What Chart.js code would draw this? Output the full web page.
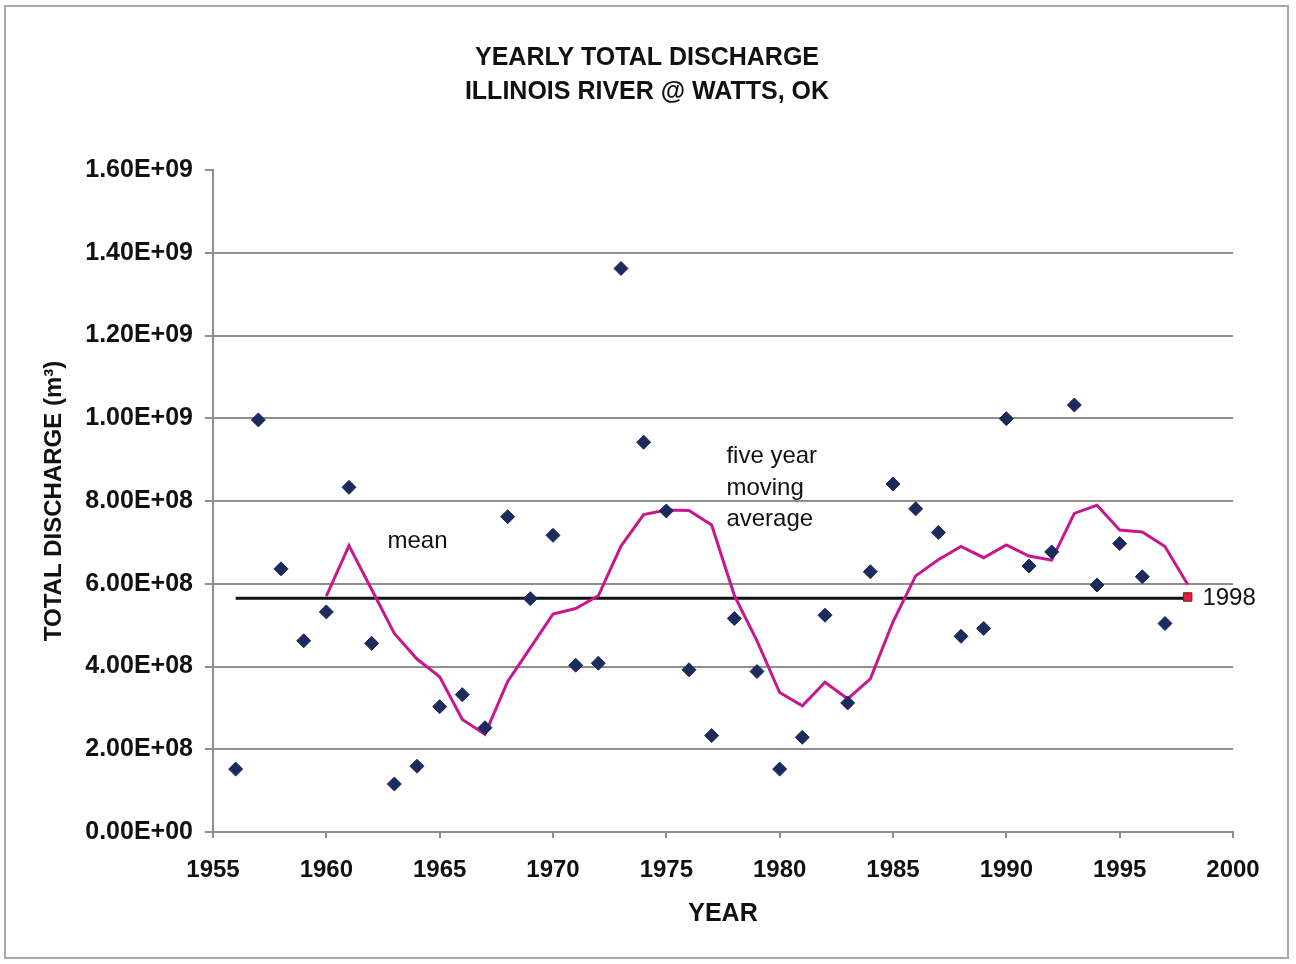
<!DOCTYPE html>
<html lang="en">
<head>
<meta charset="UTF-8">
<title>Yearly Total Discharge - Illinois River @ Watts, OK</title>
<script src="https://cdn.jsdelivr.net/npm/chart.js"></script>
<style>
  html, body { margin: 0; padding: 0; background: #fff; }
  #chart { display: block; }
</style>
</head>
<body>
<canvas id="chart" width="1296" height="964"></canvas>
<script>
// yearly totals (m3)
const years = [1956, 1957, 1958, 1959, 1960, 1961, 1962, 1963, 1964, 1965,
               1966, 1967, 1968, 1969, 1970, 1971, 1972, 1973, 1974, 1975,
               1976, 1977, 1978, 1979, 1980, 1981, 1982, 1983, 1984, 1985,
               1986, 1987, 1988, 1989, 1990, 1991, 1992, 1993, 1994, 1995,
               1996, 1997];
const discharge = [1.52e8, 9.96e8, 6.36e8, 4.62e8, 5.32e8, 8.33e8, 4.56e8, 1.16e8, 1.59e8, 3.03e8,
                   3.32e8, 2.52e8, 7.62e8, 5.64e8, 7.17e8, 4.03e8, 4.08e8, 13.62e8, 9.42e8, 7.76e8,
                   3.92e8, 2.33e8, 5.16e8, 3.88e8, 1.52e8, 2.29e8, 5.24e8, 3.12e8, 6.29e8, 8.41e8,
                   7.81e8, 7.24e8, 4.73e8, 4.92e8, 9.99e8, 6.43e8, 6.77e8, 10.32e8, 5.97e8, 6.97e8,
                   6.17e8, 5.04e8];

// highlighted last year
const lastYear = [1998];
const lastDischarge = [5.68e8];

// five year moving average line
const avgYears = [1960, 1961, 1962, 1963, 1964, 1965, 1966, 1967, 1968, 1969,
                  1970, 1971, 1972, 1973, 1974, 1975, 1976, 1977, 1978, 1979,
                  1980, 1981, 1982, 1983, 1984, 1985, 1986, 1987, 1988, 1989,
                  1990, 1991, 1992, 1993, 1994, 1995, 1996, 1997, 1998];
const movingAvg = [5.70e8, 6.92e8, 5.86e8, 4.80e8, 4.18e8, 3.75e8, 2.72e8, 2.36e8, 3.64e8, 4.45e8,
                   5.27e8, 5.40e8, 5.71e8, 6.91e8, 7.67e8, 7.78e8, 7.77e8, 7.42e8, 5.72e8, 4.62e8,
                   3.37e8, 3.05e8, 3.62e8, 3.22e8, 3.70e8, 5.08e8, 6.19e8, 6.58e8, 6.90e8, 6.63e8,
                   6.94e8, 6.67e8, 6.57e8, 7.70e8, 7.90e8, 7.30e8, 7.25e8, 6.90e8, 5.98e8];

// mean line
const meanYears = [1956, 1998];
const meanValues = [5.65e8, 5.65e8];

const FONT = '"Liberation Sans", Arial, sans-serif';
const GRID = '#8e8e8e';

function pairs(xs, ys) {
    return xs.map((x, i) => ({ x: x, y: ys[i] }));
}

function sci(v) {
    if (v === 0) return '0.00E+00';
    let e = Math.floor(Math.log10(v));
    let m = v / Math.pow(10, e);
    return m.toFixed(2) + 'E+' + String(e).padStart(2, '0');
}

// title, labels and the outer frame
const decorations = {
    id: 'decorations',
    afterDraw(chart) {
        let ctx = chart.ctx;
        let x = chart.scales.x, y = chart.scales.y;
        ctx.save();

        ctx.strokeStyle = '#a8a8a8';
        ctx.lineWidth = 2;
        ctx.strokeRect(5, 6, 1283, 952);

        ctx.fillStyle = '#111';
        ctx.textAlign = 'center';
        ctx.textBaseline = 'middle';
        ctx.font = 'bold 25px ' + FONT;
        ctx.fillText('YEARLY TOTAL DISCHARGE', 647, 58);
        ctx.fillText('ILLINOIS RIVER @ WATTS, OK', 647, 92);

        ctx.textAlign = 'left';
        ctx.font = '24px ' + FONT;
        ctx.fillText('mean', x.getPixelForValue(1962.7), y.getPixelForValue(7.03e8));
        ctx.fillText('five year', x.getPixelForValue(1977.65), y.getPixelForValue(9.08e8));
        ctx.fillText('moving', x.getPixelForValue(1977.65), y.getPixelForValue(8.31e8));
        ctx.fillText('average', x.getPixelForValue(1977.65), y.getPixelForValue(7.56e8));
        ctx.fillText('1998', x.getPixelForValue(1998.65), y.getPixelForValue(5.64e8));
        ctx.restore();
    }
};

new Chart(document.getElementById('chart'), {
    type: 'scatter',
    data: {
        datasets: [
            {
                label: 'Total discharge',
                data: pairs(years, discharge),
                pointStyle: 'rectRot',
                pointRadius: 7,
                backgroundColor: '#1c2a5c',
                borderColor: '#1c2a5c',
                order: 0
            },
            {
                label: '1998',
                data: pairs(lastYear, lastDischarge),
                pointStyle: 'rect',
                pointRadius: 6,
                backgroundColor: '#d6243a',
                borderColor: '#8a1424',
                borderWidth: 1,
                order: 0
            },
            {
                label: 'five year moving average',
                type: 'line',
                data: pairs(avgYears, movingAvg),
                borderColor: '#c8178e',
                borderWidth: 3,
                pointRadius: 0,
                tension: 0,
                order: 1
            },
            {
                label: 'mean',
                type: 'line',
                data: pairs(meanYears, meanValues),
                borderColor: '#111',
                borderWidth: 3,
                pointRadius: 0,
                order: 2
            }
        ]
    },
    options: {
        responsive: false,
        animation: false,
        layout: { padding: { top: 170, right: 63, bottom: 0, left: 0 } },
        plugins: {
            legend: { display: false },
            tooltip: { enabled: false }
        },
        scales: {
            x: {
                type: 'linear',
                min: 1955,
                max: 2000,
                afterFit: s => { s.height = 132; },
                ticks: {
                    stepSize: 5,
                    padding: 18,
                    color: '#111',
                    font: { family: FONT, size: 24, weight: 'bold' },
                    callback: v => String(v)
                },
                grid: { drawOnChartArea: false, drawTicks: true, tickLength: 6, color: GRID, lineWidth: 2 },
                border: { color: GRID, width: 2 },
                title: {
                    display: true,
                    text: 'YEAR',
                    color: '#111',
                    font: { family: FONT, size: 25, weight: 'bold' },
                    padding: { top: 0, bottom: 35 }
                }
            },
            y: {
                min: 0,
                max: 1.6e9,
                afterFit: s => { s.width = 213; },
                ticks: {
                    stepSize: 2e8,
                    padding: 12,
                    color: '#111',
                    font: { family: FONT, size: 25, weight: 'bold' },
                    callback: v => sci(v)
                },
                grid: {
                    color: c => (c.tick && (c.tick.value >= 1.6e9 || c.tick.value === 0)) ? 'rgba(0,0,0,0)' : GRID,
                    tickColor: GRID,
                    lineWidth: 2,
                    tickLength: 8
                },
                border: { color: GRID, width: 2 },
                title: {
                    display: true,
                    text: 'TOTAL DISCHARGE (m³)',
                    color: '#111',
                    font: { family: FONT, size: 24, weight: 'bold' },
                    padding: { top: 40, bottom: 0 }
                }
            }
        }
    },
    plugins: [decorations]
});
</script>
</body>
</html>
